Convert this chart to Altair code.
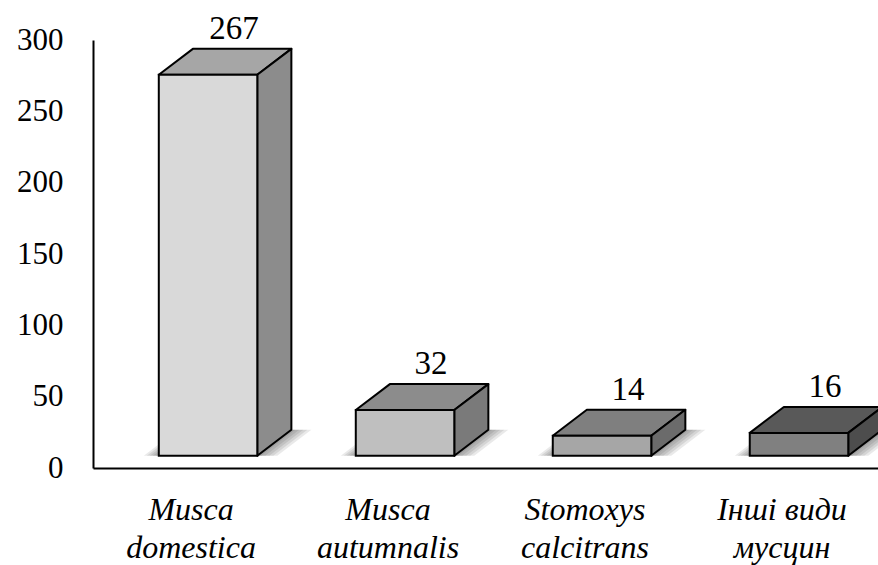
import altair as alt
import pandas as pd

# --- chart values -------------------------------------------------------
label_line1 = ["Musca", "Musca", "Stomoxys", "Інші види"]
label_line2 = ["domestica", "autumnalis", "calcitrans", "мусцин"]
counts = [267, 32, 14, 16]

# face shades for each box: front, top, right side
front_colors = ["#d9d9d9", "#bfbfbf", "#a6a6a6", "#808080"]
top_colors = ["#a6a6a6", "#8c8c8c", "#7f7f7f", "#595959"]
side_colors = ["#8c8c8c", "#7a7a7a", "#6b6b6b", "#4d4d4d"]

# --- box geometry (x in category units, y in value units) ---------------
PX = 1 / 197     # one pixel in category units
HALF = 0.25      # half width of a box front
DX = 0.173       # depth shift to the right
DY = 18.2        # depth shift upwards
FLOOR = 8.6      # front floor sits slightly above the axis line
SHADOW_STEPS = 5 # soft floor shadow built from stacked translucent layers


def parallelogram(x_left, x_right, y, rows, **extra):
    """Area points of a floor/top parallelogram receding by (DX, DY)."""
    for x, lo, hi in [(x_left, y, y), (x_left + DX, y, y + DY),
                      (x_right, y, y + DY), (x_right + DX, y + DY, y + DY)]:
        rows.append(dict(x=x, lo=lo, hi=hi, **extra))


front_rows, top_rows, side_rows, shadow_rows, label_rows = [], [], [], [], []
for i, v in enumerate(counts):
    xl, xr = i - HALF, i + HALF
    b, t = FLOOR, FLOOR + v
    front_rows.append(dict(id=i, x0=xl, x1=xr, y0=b, y1=t, fill=front_colors[i]))
    parallelogram(xl, xr, t, top_rows, id=i, fill=top_colors[i])
    for x, lo, hi in [(xr, b, t), (xr + DX, b + DY, t + DY)]:
        side_rows.append(dict(id=i, x=x, lo=lo, hi=hi, fill=side_colors[i]))
    for k in range(1, SHADOW_STEPS + 1):
        parallelogram(xl - 3 * k * PX, xr + 4 * k * PX, b, shadow_rows, id=f"{i}-{k}")
    label_rows.append(dict(id=i, x=i, ytop=t + DY, value=str(v),
                           l1=label_line1[i], l2=label_line2[i]))

front_df = pd.DataFrame(front_rows)
top_df = pd.DataFrame(top_rows)
side_df = pd.DataFrame(side_rows)
shadow_df = pd.DataFrame(shadow_rows)
label_df = pd.DataFrame(label_rows)

FONT = "Liberation Serif"

x_scale = alt.Scale(domain=[-0.584, 3.401], nice=False, zero=False)
y_scale = alt.Scale(domain=[0, 300], nice=False)

x_axis = alt.Axis(labels=False, ticks=False, grid=False, title=None,
                  domainColor="black", domainWidth=2)
y_axis = alt.Axis(values=[0, 50, 100, 150, 200, 250, 300], ticks=False, grid=False,
                  title=None, domainColor="black", domainWidth=2,
                  labelFont=FONT, labelFontSize=31, labelColor="black",
                  labelPadding=30)

shadow = alt.Chart(shadow_df).mark_area(fill="black", fillOpacity=0.085, clip=False).encode(
    x=alt.X("x:Q", scale=x_scale, axis=x_axis),
    y=alt.Y("lo:Q", scale=y_scale, stack=None, axis=y_axis),
    y2="hi:Q",
    detail="id:N",
)

front = alt.Chart(front_df).mark_rect(stroke="black", strokeWidth=2, clip=False).encode(
    x=alt.X("x0:Q", scale=x_scale),
    x2="x1:Q",
    y=alt.Y("y0:Q", scale=y_scale),
    y2="y1:Q",
    fill=alt.Fill("fill:N", scale=None),
)

top = alt.Chart(top_df).mark_area(stroke="black", strokeWidth=2, strokeJoin="round",
                                  clip=False).encode(
    x=alt.X("x:Q", scale=x_scale),
    y=alt.Y("lo:Q", scale=y_scale, stack=None),
    y2="hi:Q",
    fill=alt.Fill("fill:N", scale=None),
    detail="id:N",
)

side = alt.Chart(side_df).mark_area(stroke="black", strokeWidth=2, strokeJoin="round",
                                    clip=False).encode(
    x=alt.X("x:Q", scale=x_scale),
    y=alt.Y("lo:Q", scale=y_scale, stack=None),
    y2="hi:Q",
    fill=alt.Fill("fill:N", scale=None),
    detail="id:N",
)

values = alt.Chart(label_df).mark_text(font=FONT, fontSize=33, color="black",
                                       baseline="alphabetic", dx=26, dy=-10).encode(
    x=alt.X("x:Q", scale=x_scale),
    y=alt.Y("ytop:Q", scale=y_scale),
    text="value:N",
)

cat1 = alt.Chart(label_df).mark_text(font=FONT, fontSize=32, fontStyle="italic",
                                     color="black", baseline="alphabetic",
                                     dx=-17, dy=52).encode(
    x=alt.X("x:Q", scale=x_scale),
    y=alt.YDatum(0, scale=y_scale),
    text="l1:N",
)

cat2 = alt.Chart(label_df).mark_text(font=FONT, fontSize=32, fontStyle="italic",
                                     color="black", baseline="alphabetic",
                                     dx=-17, dy=90).encode(
    x=alt.X("x:Q", scale=x_scale),
    y=alt.YDatum(0, scale=y_scale),
    text="l2:N",
)

chart = alt.layer(shadow, top, side, front, values, cat1, cat2).properties(
    width=785,
    height=428,
    padding={"left": 93, "top": 40, "right": 0, "bottom": 97},
    autosize=alt.AutoSizeParams(type="none"),
    background="white",
).configure_view(stroke=None)

chart.save("out.html", embed_options={"renderer": "svg", "actions": False})
